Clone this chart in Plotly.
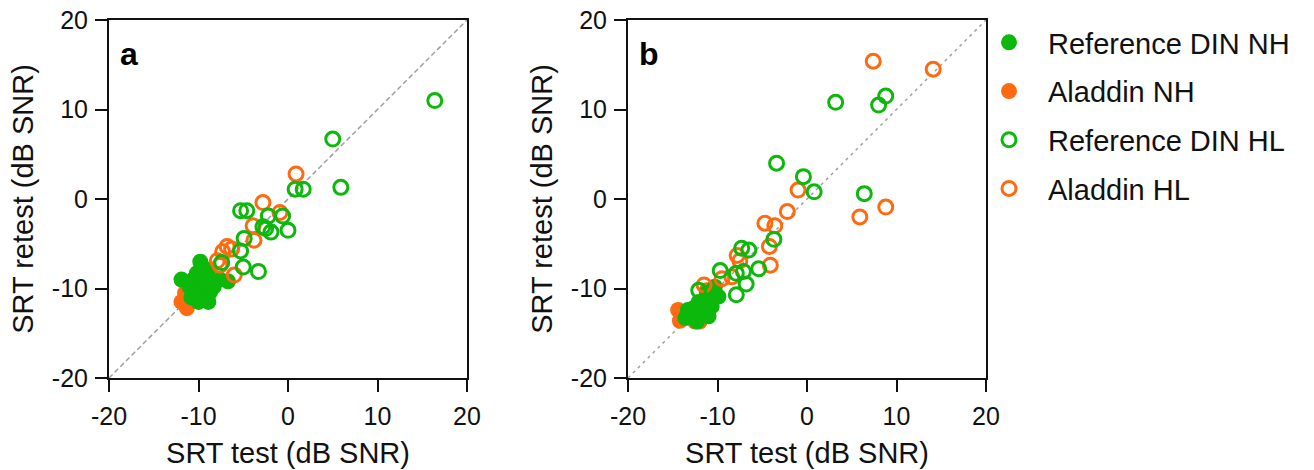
import plotly.graph_objects as go

# ---------------- data ----------------
ticks = [-20, -10, 0, 10, 20]
tick_labels = ["-20", "-10", "0", "10", "20"]
diag = [-20, 20]

# Panel a
a_din_nh_x = [-9.8, -11.9, -8.9, -6.7, -7.6, -11.0, -9.8, -8.7, -10.0, -8.9, -10.6, -9.5, -8.3, -10.8, -10.2, -9.2]
a_din_nh_y = [-7.0, -9.0, -7.9, -9.2, -9.0, -9.8, -10.5, -10.4, -11.5, -11.5, -9.0, -9.0, -9.8, -11.0, -8.3, -8.6]
a_ala_nh_x = [-11.9, -11.3, -11.5, -10.5, -9.6, -11.0]
a_ala_nh_y = [-11.5, -12.2, -10.5, -10.0, -9.5, -10.8]
a_din_hl_x = [16.4, 5.0, 5.9, 0.8, 1.7, -5.3, -4.6, -2.2, -0.6, -2.5, -1.9, -2.8, 0.0, -4.9, -5.3, -5.0, -3.3, -7.4]
a_din_hl_y = [11.0, 6.7, 1.3, 1.1, 1.1, -1.3, -1.3, -1.9, -1.9, -3.3, -3.7, -3.1, -3.5, -4.4, -5.8, -7.6, -8.1, -7.1]
a_ala_hl_x = [0.9, -2.8, -0.9, -3.9, -3.8, -6.8, -7.3, -6.3, -7.9, -6.0, -7.6]
a_ala_hl_y = [2.8, -0.4, -1.5, -3.0, -4.6, -5.3, -5.9, -5.6, -6.9, -8.5, -7.4]

# Panel b
b_din_nh_x = [-10.3, -11.2, -9.9, -12.1, -10.65, -13.3, -12.1, -13.6, -12.3, -11.0, -11.4, -12.7, -10.5]
b_din_nh_y = [-9.8, -10.5, -10.9, -11.5, -12.0, -12.4, -13.0, -13.3, -13.7, -13.1, -11.6, -12.2, -11.2]
b_ala_nh_x = [-14.4, -14.2, -12.5, -12.0, -11.2, -13.0]
b_ala_nh_y = [-12.4, -13.6, -13.7, -13.7, -10.2, -13.0]
b_din_hl_x = [3.2, 8.0, 8.8, -3.4, -0.4, 0.8, 6.4, -3.7, -7.3, -6.5, -9.7, -7.9, -7.1, -5.4, -6.8, -7.9, -12.1]
b_din_hl_y = [10.8, 10.5, 11.5, 4.0, 2.5, 0.8, 0.6, -4.5, -5.5, -5.7, -8.0, -8.3, -8.1, -7.8, -9.5, -10.7, -10.2]
b_ala_hl_x = [7.4, 14.1, -1.0, -2.2, 5.9, 8.8, -4.7, -3.6, -4.2, -4.1, -7.8, -7.5, -8.4, -9.5, -11.5]
b_ala_hl_y = [15.4, 14.5, 1.0, -1.4, -2.0, -0.9, -2.7, -3.0, -5.3, -7.4, -6.3, -6.9, -8.7, -8.9, -9.6]

series_names = ["Reference DIN NH", "Aladdin NH", "Reference DIN HL", "Aladdin HL"]

GREEN = "#0BB80B"
ORANGE = "#FF6A10"
FONT = "Liberation Sans, Arial, sans-serif"

fig = go.Figure()

panels = [
    ("x", "y", (a_din_nh_x, a_din_nh_y), (a_ala_nh_x, a_ala_nh_y),
     (a_din_hl_x, a_din_hl_y), (a_ala_hl_x, a_ala_hl_y), "5px,3px"),
    ("x2", "y2", (b_din_nh_x, b_din_nh_y), (b_ala_nh_x, b_ala_nh_y),
     (b_din_hl_x, b_din_hl_y), (b_ala_hl_x, b_ala_hl_y), "3px,4px"),
]

for i, (xa, ya, din_nh, ala_nh, din_hl, ala_hl, dash) in enumerate(panels):
    show = i == 0
    fig.add_trace(go.Scatter(x=diag, y=diag, xaxis=xa, yaxis=ya, mode="lines",
                             line=dict(color="#A0A0A0", width=1.5, dash=dash),
                             showlegend=False, hoverinfo="skip"))
    # draw order: orange filled, green filled, orange open, green open
    fig.add_trace(go.Scatter(x=ala_nh[0], y=ala_nh[1], xaxis=xa, yaxis=ya, mode="markers",
                             name=series_names[1], legendgroup="g2", legendrank=2, showlegend=show,
                             marker=dict(symbol="circle", size=16, color=ORANGE,
                                         line=dict(width=0))))
    fig.add_trace(go.Scatter(x=din_nh[0], y=din_nh[1], xaxis=xa, yaxis=ya, mode="markers",
                             name=series_names[0], legendgroup="g1", legendrank=1, showlegend=show,
                             marker=dict(symbol="circle", size=16, color=GREEN,
                                         line=dict(width=0))))
    fig.add_trace(go.Scatter(x=ala_hl[0], y=ala_hl[1], xaxis=xa, yaxis=ya, mode="markers",
                             name=series_names[3], legendgroup="g4", legendrank=4, showlegend=show,
                             marker=dict(symbol="circle-open", size=14, color=ORANGE,
                                         line=dict(width=3, color=ORANGE))))
    fig.add_trace(go.Scatter(x=din_hl[0], y=din_hl[1], xaxis=xa, yaxis=ya, mode="markers",
                             name=series_names[2], legendgroup="g3", legendrank=3, showlegend=show,
                             marker=dict(symbol="circle-open", size=14, color=GREEN,
                                         line=dict(width=3, color=GREEN))))

W, H = 1314, 470
ydom = [(470 - 378) / H, (470 - 20) / H]
axis_common = dict(
    range=[-20, 20], tickmode="array", tickvals=ticks, ticktext=tick_labels,
    showline=True, linecolor="#111111", linewidth=2, mirror=True,
    ticks="outside", ticklen=12, tickwidth=2, tickcolor="#111111",
    showgrid=False, zeroline=False, automargin=False, ticklabeloverflow="allow",
    tickfont=dict(family=FONT, size=25, color="#111111"),
)

fig.update_layout(
    width=W, height=H,
    margin=dict(l=0, r=0, t=0, b=0, autoexpand=False),
    paper_bgcolor="white", plot_bgcolor="white",
    font=dict(family=FONT, color="#111111"),
    xaxis=dict(domain=[109 / W, 467 / W], anchor="y", ticklabelstandoff=3,
               title=dict(text="SRT test (dB SNR)", font=dict(size=29), standoff=14),
               **axis_common),
    yaxis=dict(domain=ydom, anchor="x", ticklabelstandoff=2,
               title=dict(text="SRT retest (dB SNR)", font=dict(size=29), standoff=10),
               **axis_common),
    xaxis2=dict(domain=[628 / W, 986 / W], anchor="y2", ticklabelstandoff=3,
                title=dict(text="SRT test (dB SNR)", font=dict(size=29), standoff=14),
                **axis_common),
    yaxis2=dict(domain=ydom, anchor="x2", ticklabelstandoff=2,
                title=dict(text="SRT retest (dB SNR)", font=dict(size=29), standoff=10),
                **axis_common),
    legend=dict(x=970 / W, y=1 - 17 / H, xanchor="left", yanchor="top",
                font=dict(family=FONT, size=29, color="#111111"),
                traceorder="grouped", tracegroupgap=8, itemwidth=68,
                bgcolor="rgba(0,0,0,0)"),
    annotations=[
        dict(text="<b>a</b>", x=0.025, y=0.96, xref="x domain", yref="y domain",
             xanchor="left", yanchor="top", showarrow=False,
             font=dict(family=FONT, size=32, color="#000000")),
        dict(text="<b>b</b>", x=0.025, y=0.96, xref="x2 domain", yref="y2 domain",
             xanchor="left", yanchor="top", showarrow=False,
             font=dict(family=FONT, size=32, color="#000000")),
    ],
)

fig.write_html("out.html", config={"displayModeBar": False},
               post_script="document.body.style.margin='0px';document.body.style.padding='0px';")
